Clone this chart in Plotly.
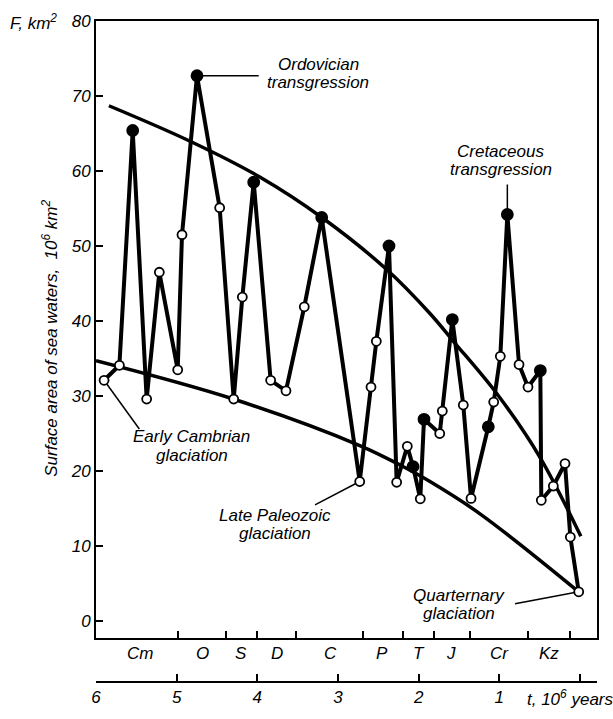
import plotly.graph_objects as go

# ---------------- data ----------------
t_points = [5.90, 5.71, 5.545, 5.372, 5.215, 4.987, 4.934, 4.748, 4.467, 4.293,
            4.186, 4.045, 3.835, 3.645, 3.418, 3.202, 2.731, 2.591, 2.525, 2.368,
            2.273, 2.141, 2.070, 1.980, 1.934, 1.739, 1.707, 1.583, 1.447, 1.351,
            1.137, 1.070, 0.988, 0.901, 0.756, 0.645, 0.492, 0.480, 0.331, 0.186,
            0.120, 0.016]
area_points = [32.1, 34.1, 65.4, 29.6, 46.5, 33.5, 51.5, 72.7, 55.1, 29.6,
               43.2, 58.5, 32.1, 30.7, 41.9, 53.8, 18.6, 31.2, 37.3, 50.0,
               18.5, 23.3, 20.6, 16.3, 26.9, 25.0, 28.0, 40.2, 28.8, 16.35,
               25.9, 29.2, 35.3, 54.2, 34.2, 31.2, 33.4, 16.1, 18.0, 21.0,
               11.2, 3.9]
is_filled = [0, 0, 1, 0, 0, 0, 0, 1, 0, 0,
             0, 1, 0, 0, 0, 1, 0, 0, 0, 1,
             0, 0, 1, 0, 1, 0, 0, 1, 0, 0,
             1, 0, 0, 1, 0, 0, 1, 0, 0, 0,
             0, 0]

upper_t = [5.84, 4.84, 3.97, 3.20, 2.40, 1.86, 1.57, 1.03, 0.50, -0.01]
upper_area = [68.7, 64.0, 59.2, 53.8, 46.9, 41.0, 37.3, 30.3, 21.9, 11.3]
lower_t = [6.0, 4.3, 2.73, 2.23, 1.86, 1.24, 0.016]
lower_area = [34.7, 29.6, 23.4, 20.8, 18.6, 14.3, 3.9]

period_bounds = [4.98, 4.39, 4.0, 3.52, 2.69, 2.2, 1.81, 1.36, 0.65, 0.12]
period_names = ['Cm', 'O', 'S', 'D', 'C', 'P', 'T', 'J', 'Cr', 'Kz']
period_centers = [5.455, 4.686, 4.20, 3.756, 3.087, 2.455, 1.996, 1.60, 0.992, 0.38]

time_ticks = [6, 5, 4, 3, 2, 1, 0]
time_tick_labels = ['6', '5', '4', '3', '2', '1', '']
area_ticks = [0, 10, 20, 30, 40, 50, 60, 70, 80]

# labels: (lines, text x, text y of each line, index of point, leader end x, leader end y)
labels = [
    (['Ordovician', 'transgression'], 3.248, [74.24, 71.76], 7, 3.983, None),
    (['Cretaceous', 'transgression'], 0.980, [62.62, 60.21], 33, None, 58.2),
    (['Early Cambrian', 'glaciation'], 4.814, [24.57, 22.09], 0, 5.463, 25.6),
    (['Late Paleozoic', 'glaciation'], 3.775, [14.13, 11.64], 16, 3.285, 15.5),
    (['Quarternary', 'glaciation'], 1.506, [3.36, 1.0], 41, 0.806, 2.3),
]

FONT = 'Liberation Sans, Arial, Helvetica, sans-serif'
X_RANGE = [6, -0.2105]
Y_RANGE = [-2.25, 80]

fig = go.Figure()

fig.add_trace(go.Scatter(x=upper_t, y=upper_area, mode='lines',
                         line=dict(color='black', width=3.5, shape='spline'),
                         hoverinfo='skip', showlegend=False))
fig.add_trace(go.Scatter(x=lower_t, y=lower_area, mode='lines',
                         line=dict(color='black', width=3.5, shape='spline'),
                         hoverinfo='skip', showlegend=False))

marker_colors = ['black' if f else 'white' for f in is_filled]
marker_sizes = [11 if f else 9 for f in is_filled]
fig.add_trace(go.Scatter(x=t_points, y=area_points, mode='lines+markers',
                         line=dict(color='black', width=4),
                         marker=dict(color=marker_colors, size=marker_sizes,
                                     opacity=1,
                                     line=dict(color='black', width=1.8)),
                         showlegend=False))

# invisible trace to keep the frame axis alive
fig.add_trace(go.Scatter(x=[None], y=[None], xaxis='x2', yaxis='y',
                         showlegend=False, hoverinfo='skip'))

# leader lines
for lines, tx, tys, idx, lx, ly in labels:
    px_, py_ = t_points[idx], area_points[idx]
    ex = px_ if lx is None else lx
    ey = py_ if ly is None else ly
    fig.add_shape(type='line', xref='x', yref='y', x0=px_, y0=py_, x1=ex, y1=ey,
                  line=dict(color='black', width=1.5), layer='below')
    for txt, ty in zip(lines, tys):
        fig.add_annotation(x=tx, y=ty, xref='x', yref='y', text=txt,
                           showarrow=False, xanchor='center', yanchor='middle',
                           font=dict(size=17))

# period labels
for name, c in zip(period_names, period_centers):
    fig.add_annotation(x=c, y=(695 - 666) / 675, xref='x', yref='paper', text=name,
                       showarrow=False, xanchor='center', yanchor='middle',
                       font=dict(size=17))

# axis titles
fig.add_annotation(x=(525 - 96) / 501, y=(695 - 711) / 675, xref='paper', yref='paper',
                   text='t, 10<sup>6</sup> years', showarrow=False,
                   xanchor='left', yanchor='middle', font=dict(size=17))
fig.add_annotation(x=(8 - 96) / 501, y=(695 - 21) / 675, xref='paper', yref='paper',
                   text='F, km<sup>2</sup>', showarrow=False,
                   xanchor='left', yanchor='middle', font=dict(size=17))
fig.add_annotation(x=(50 - 96) / 501, y=(695 - 344.5) / 675, xref='paper', yref='paper',
                   text='Surface area of sea waters,  10<sup>6</sup> km<sup>2</sup>',
                   showarrow=False, textangle=-90,
                   xanchor='center', yanchor='middle', font=dict(size=17))

fig.update_layout(
    width=613, height=719, autosize=False,
    margin=dict(l=96, r=16, t=20, b=24),
    plot_bgcolor='white', paper_bgcolor='white',
    font=dict(family=FONT, size=17, color='black', style='italic'),
    showlegend=False,
    xaxis=dict(range=X_RANGE, anchor='free', position=0, domain=[0, 1],
               showline=True, linecolor='black', linewidth=2,
               ticks='inside', ticklen=7, tickwidth=2, tickcolor='black',
               tickvals=time_ticks, ticktext=time_tick_labels,
               showgrid=False, zeroline=False, tickfont=dict(size=17)),
    xaxis2=dict(range=X_RANGE, overlaying='x', anchor='y',
                showline=True, mirror=True, linecolor='black', linewidth=2,
                ticks='inside', ticklen=7, tickwidth=2, tickcolor='black',
                tickvals=period_bounds, showticklabels=False,
                showgrid=False, zeroline=False),
    yaxis=dict(range=Y_RANGE, domain=[45 / 675, 1], anchor='x',
               showline=True, mirror=True, linecolor='black', linewidth=2,
               ticks='inside', ticklen=7, tickwidth=2, tickcolor='black',
               tickvals=area_ticks, showgrid=False, zeroline=False,
               tickfont=dict(size=17)),
)

post = (
    "document.documentElement.style.margin='0';"
    "document.documentElement.style.padding='0';"
    "document.documentElement.style.overflow='hidden';"
    "document.body.style.margin='0';"
    "document.body.style.padding='0';"
    "document.body.style.overflow='hidden';"
)

fig.write_html('out.html', config={'displayModeBar': False, 'responsive': False},
               post_script=post)
